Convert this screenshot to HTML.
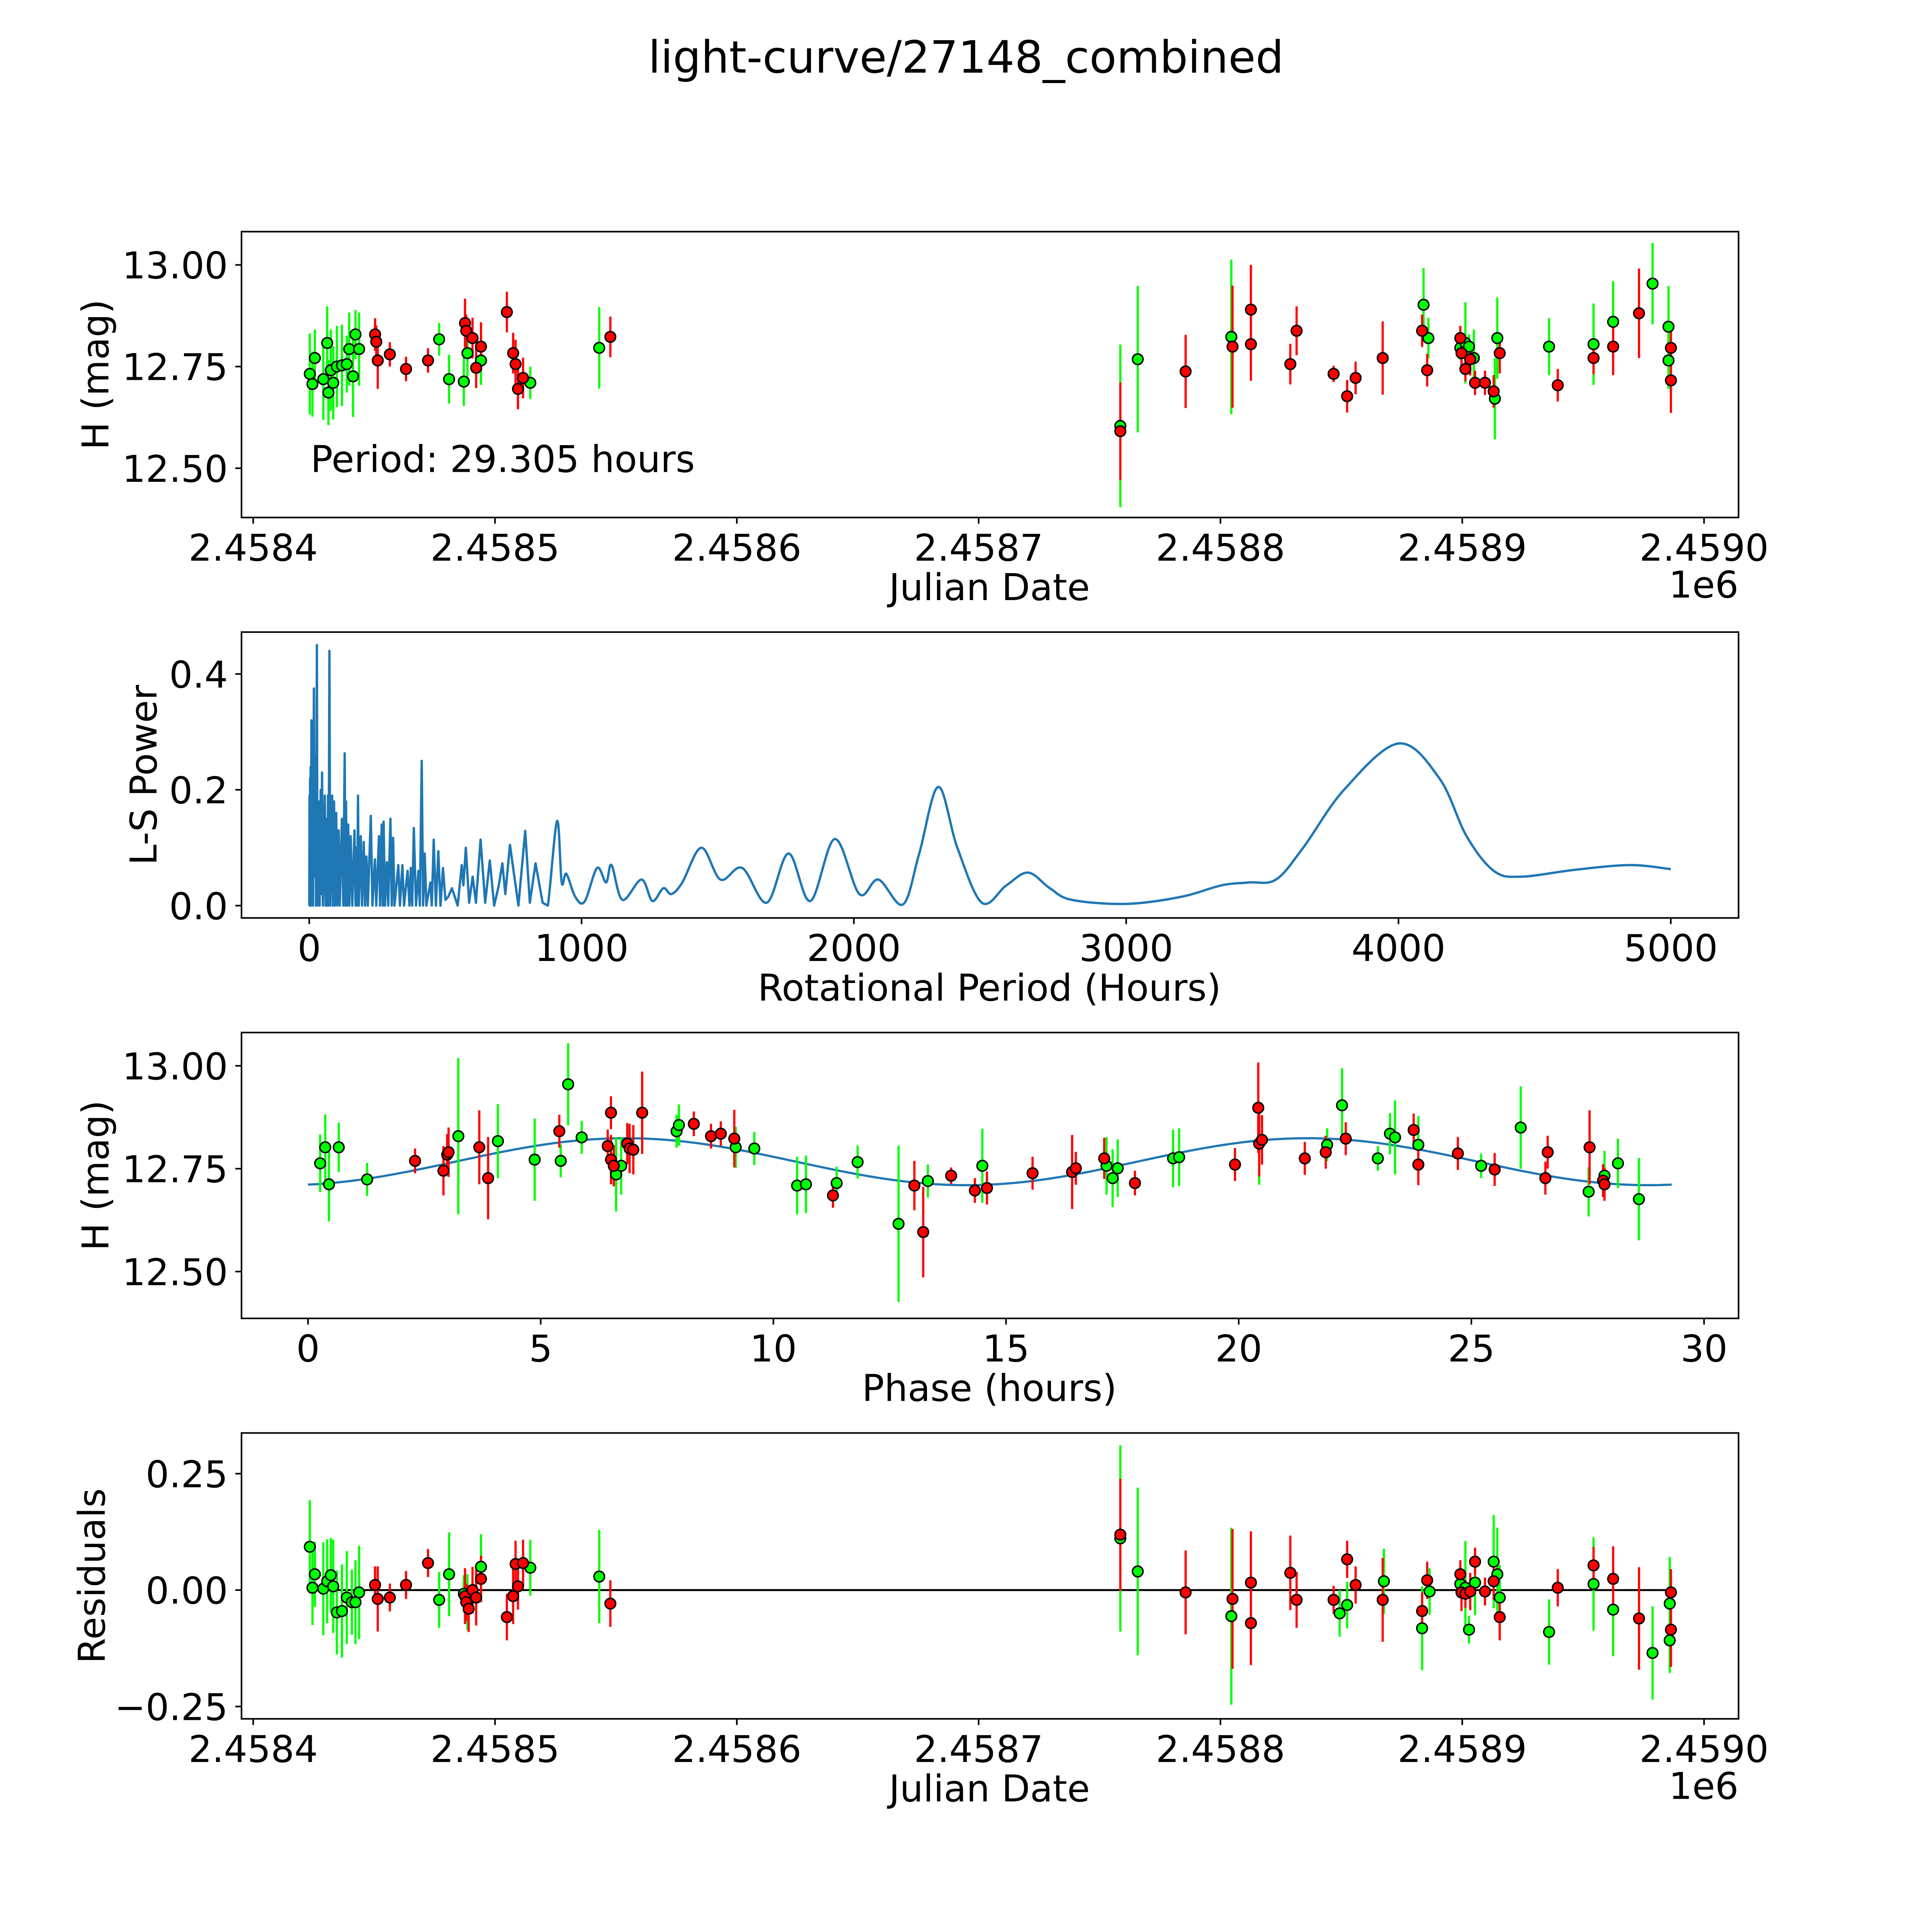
<!DOCTYPE html>
<html><head><meta charset="utf-8">
<style>
html,body{margin:0;padding:0;background:#fff;overflow:hidden;}
svg{display:block;}
text{font-family:"DejaVu Sans","Liberation Sans",sans-serif;fill:#000;}
</style></head>
<body>
<svg id="fig" width="5000" height="5000" viewBox="0 0 1568 1568" xmlns="http://www.w3.org/2000/svg">
<rect x="0" y="0" width="1568" height="1568" fill="#fff"/>
<text x="784" y="59" font-size="36" text-anchor="middle">light-curve/27148_combined</text>
</svg>
<script>
// ---------- DATA ----------
const lcGreenDay = [23.4,24.5,25.5,29.0,30.6,31.1,32.1,33.1,34.6,36.7,38.7,39.7,41.3,42.3,43.8,76.9,81.0,87.1,88.6,94.2,114.6,143.1,358.6,365.8,404.5,484.0,486.0,499.2,501.3,502.8,504.8,513.5,514.5,535.9,554.3,562.4,578.7,585.3,585.3];
const lcGreenMag = [12.732,12.707,12.771,12.719,12.808,12.686,12.741,12.710,12.750,12.753,12.756,12.793,12.726,12.829,12.793,12.817,12.719,12.713,12.783,12.765,12.710,12.796,12.604,12.768,12.823,12.902,12.820,12.796,12.808,12.799,12.771,12.671,12.820,12.799,12.805,12.860,12.954,12.848,12.765];
const lcGreenErr = [0.10,0.08,0.07,0.10,0.09,0.08,0.10,0.09,0.10,0.10,0.07,0.09,0.10,0.06,0.09,0.04,0.06,0.06,0.07,0.06,0.04,0.10,0.20,0.18,0.19,0.09,0.05,0.03,0.10,0.03,0.07,0.10,0.10,0.07,0.10,0.10,0.10,0.10,0.07];
const lcRedDay = [50.4,50.9,51.5,56.5,63.2,72.3,87.6,88.1,90.7,92.2,94.2,104.9,107.5,108.5,109.5,111.6,147.7,358.6,385.6,405.0,412.6,412.6,428.9,431.5,446.8,452.4,455.9,467.1,483.4,485.5,499.2,499.7,501.3,503.3,505.3,509.4,513.0,515.5,539.5,554.3,562.4,573.1,586.3,586.3];
const lcRedMag = [12.829,12.811,12.765,12.780,12.744,12.765,12.857,12.838,12.820,12.747,12.799,12.884,12.783,12.756,12.695,12.722,12.823,12.591,12.738,12.799,12.890,12.805,12.756,12.838,12.732,12.677,12.722,12.771,12.838,12.741,12.820,12.783,12.744,12.768,12.710,12.710,12.689,12.783,12.704,12.771,12.799,12.881,12.796,12.716];
const lcRedErr = [0.04,0.04,0.07,0.03,0.03,0.03,0.06,0.04,0.05,0.05,0.06,0.05,0.05,0.06,0.05,0.05,0.05,0.12,0.09,0.15,0.11,0.09,0.05,0.06,0.02,0.04,0.04,0.09,0.04,0.04,0.03,0.04,0.03,0.04,0.03,0.03,0.04,0.05,0.04,0.04,0.07,0.11,0.05,0.08];

const lsPeriod = [0,1,2,3,4,5,6,8,10,12,14,17,19,21,23,25,28,30,35,38,42,44,47,50,57,60,64,66,69,71,74,77,84,87,91,94,99,103,108,112,120,125,130,133,135,139,143,147,152,158,166,170,173,176,179,182,189,194,200,205,210,215,226,232,241,246,256,260,266,270,273,278,285,290,298,303,308,313,327,333,342,348,361,368,373,378,384,392,401,406,413,418,424,430,445,450,457,465,474,482,491,500,510,524,545,560,566,575,587,600,612,629,646,663,679,696,709,720,737,768,793,810,831,857,876,910,927,944,977,1011,1057,1090,1110,1150,1220,1260,1300,1330,1370,1440,1510,1590,1680,1760,1840,1930,2020,2090,2180,2240,2310,2380,2470,2560,2640,2720,2800,3000,3200,3350,3450,3550,3650,3800,4000,4150,4250,4350,4450,4650,4850,5000];
const lsPower = [0,0.19,0,0.22,0,0.24,0,0.32,0.02,0.23,0,0.375,0.05,0.2,0.26,0,0.45,0,0.18,0,0.2,0.02,0.23,0,0.19,0,0.15,0,0.19,0,0.44,0,0.19,0,0.18,0,0.16,0,0.13,0,0.15,0,0.263,0,0.18,0,0.14,0,0.12,0,0.13,0,0.1,0,0.19,0,0.12,0,0.11,0,0.085,0,0.155,0,0.08,0,0.12,0,0.14,0,0.145,0,0.075,0,0.15,0,0.117,0,0.07,0,0.07,0,0.06,0,0.065,0,0.134,0,0.06,0,0.25,0,0.09,0,0.04,0,0.114,0,0.094,0,0.065,0.01,0.015,0.03,0,0.07,0.035,0.1,0.005,0.05,0.005,0.114,0.005,0.078,0,0.035,0.073,0.02,0.105,0,0.129,0.005,0.073,0.005,0,0.146,0.04,0.055,0.015,0.007,0.065,0.04,0.07,0.01,0.045,0.008,0.03,0.02,0.04,0.1,0.045,0.065,0.005,0.09,0.008,0.115,0.02,0.045,0.002,0.09,0.205,0.1,0.005,0.035,0.057,0.03,0.01,0.003,0.015,0.035,0.04,0.045,0.1,0.2,0.28,0.22,0.12,0.06,0.05,0.062,0.07,0.063];

const phGreenPhase = [0.26,0.37,0.45,0.66,1.27,3.23,4.08,4.87,5.43,5.59,5.88,6.62,6.73,7.92,7.97,9.19,9.59,10.51,10.70,11.36,11.81,12.69,13.32,14.49,17.16,17.29,17.40,18.59,18.72,20.44,21.90,22.22,22.99,23.25,23.36,23.86,25.21,26.06,27.52,27.86,28.15,28.60];
const phGreenMag = [12.763,12.802,12.712,12.802,12.724,12.829,12.817,12.772,12.769,12.955,12.826,12.736,12.757,12.841,12.856,12.802,12.799,12.709,12.712,12.715,12.766,12.616,12.720,12.757,12.757,12.727,12.751,12.775,12.778,12.811,12.808,12.904,12.775,12.835,12.826,12.808,12.757,12.850,12.694,12.733,12.763,12.676];
const phGreenErr = [0.07,0.08,0.09,0.06,0.04,0.19,0.09,0.10,0.04,0.10,0.04,0.09,0.07,0.04,0.05,0.05,0.04,0.07,0.07,0.04,0.04,0.19,0.04,0.09,0.07,0.07,0.07,0.07,0.07,0.1,0.04,0.09,0.03,0.05,0.09,0.07,0.03,0.1,0.06,0.06,0.06,0.10];
const phRedPhase = [2.30,2.91,2.99,3.02,3.68,3.87,5.40,6.44,6.51,6.51,6.57,6.86,6.91,6.99,7.18,8.29,8.66,8.87,9.16,11.28,13.03,13.22,13.82,14.33,14.59,15.57,16.42,16.50,17.11,17.77,19.92,20.42,20.44,20.50,21.42,21.87,22.30,23.76,23.86,24.71,25.50,26.64,26.59,27.54,27.83,27.86];
const phRedMag = [12.769,12.745,12.784,12.790,12.802,12.727,12.841,12.805,12.886,12.772,12.757,12.811,12.799,12.796,12.886,12.859,12.829,12.835,12.823,12.685,12.709,12.596,12.733,12.697,12.703,12.739,12.742,12.751,12.775,12.715,12.760,12.898,12.811,12.820,12.775,12.790,12.823,12.844,12.760,12.787,12.748,12.790,12.727,12.802,12.721,12.712];
const phRedErr = [0.03,0.06,0.05,0.06,0.09,0.1,0.04,0.04,0.04,0.06,0.05,0.05,0.06,0.06,0.1,0.03,0.03,0.03,0.07,0.03,0.06,0.11,0.02,0.03,0.04,0.04,0.09,0.04,0.05,0.03,0.04,0.11,0.08,0.06,0.04,0.04,0.04,0.04,0.05,0.04,0.04,0.04,0.04,0.09,0.04,0.04];
const fitParams = [12.767, 0.057, 0.5, 29.305];

const rsGreenDay = [23.4,24.5,25.5,29.0,30.6,32.1,33.1,34.6,36.7,38.7,40.8,42.3,43.8,76.9,81.0,87.1,88.6,94.2,114.6,143.1,358.6,365.8,404.5,449.3,452.4,467.6,483.4,486.5,499.2,501.3,502.8,505.3,513.0,514.5,515.5,535.9,554.3,562.4,578.7,585.8,585.8];
const rsGreenVal = [0.093,0.005,0.034,0.003,0.019,0.032,0.008,-0.048,-0.045,-0.016,-0.026,-0.026,-0.005,-0.021,0.034,-0.008,-0.026,0.050,0.048,0.029,0.111,0.040,-0.056,-0.050,-0.032,0.019,-0.082,-0.003,0.013,0.005,-0.085,0.016,0.061,0.034,-0.016,-0.090,0.013,-0.042,-0.135,-0.029,-0.108];
const rsGreenErr = [0.10,0.08,0.07,0.10,0.09,0.08,0.10,0.09,0.10,0.10,0.07,0.09,0.10,0.06,0.09,0.04,0.06,0.07,0.06,0.10,0.20,0.18,0.19,0.05,0.05,0.07,0.09,0.05,0.03,0.10,0.03,0.07,0.10,0.10,0.07,0.07,0.10,0.10,0.10,0.10,0.07];
const rsRedDay = [50.4,51.5,56.5,63.2,72.3,87.6,88.1,89.1,90.7,92.2,94.2,104.9,107.5,108.5,109.5,111.6,147.7,358.6,385.6,405.0,412.6,412.6,428.9,431.5,446.8,452.4,455.9,467.1,483.4,485.5,499.2,499.7,501.3,503.3,505.3,509.4,513.0,515.5,539.5,554.3,562.4,573.1,586.3,586.3];
const rsRedVal = [0.011,-0.019,-0.016,0.011,0.058,-0.013,-0.026,-0.040,0,-0.016,0.024,-0.058,-0.013,0.056,0.008,0.058,-0.029,0.119,-0.005,-0.019,0.016,-0.071,0.037,-0.021,-0.021,0.066,0.011,-0.021,-0.045,0.021,0.034,-0.005,-0.008,-0.003,0.061,-0.003,0.019,-0.058,0.005,0.053,0.024,-0.061,-0.005,-0.085];
const rsRedErr = [0.04,0.07,0.03,0.03,0.03,0.06,0.04,0.05,0.05,0.06,0.05,0.05,0.06,0.05,0.05,0.05,0.05,0.12,0.09,0.15,0.11,0.09,0.08,0.06,0.03,0.04,0.04,0.09,0.04,0.04,0.03,0.04,0.03,0.04,0.03,0.03,0.04,0.05,0.04,0.04,0.07,0.11,0.05,0.08];

const jdTickVals = [0,100,200,300,400,500,600];
const jdTickLabels = ["2.4584","2.4585","2.4586","2.4587","2.4588","2.4589","2.4590"];
const magTickVals = [13.0,12.75,12.5];
const magTickLabels = ["13.00","12.75","12.50"];
const lsXTicks = [0,1000,2000,3000,4000,5000];
const lsYTicks = [0,0.2,0.4];
const lsYLabels = ["0.0","0.2","0.4"];
const phXTicks = [0,5,10,15,20,25,30];
const rsYTicks = [0.25,0,-0.25];
const rsYLabels = ["0.25","0.00","\u22120.25"];

// ---------- DRAW ----------
const NS = "http://www.w3.org/2000/svg";
const svg = document.getElementById("fig");
const FS = 30;
function mk(tag, attrs, parent){
  const e = document.createElementNS(NS, tag);
  for (const k in attrs) e.setAttribute(k, attrs[k]);
  (parent||svg).appendChild(e);
  return e;
}
function lin(d0,d1,p0,p1){ return v => p0 + (v-d0)*(p1-p0)/(d1-d0); }

const L = 196, R = 1411;
const xJD = lin(0,600,205.5,1383);
const y1 = lin(12.5,13.0,380,215);
const xLS = lin(0,5000,251,1356);
const y2 = lin(0,0.4,735,547);
const xPH = lin(0,30,250,1383);
const y3 = lin(12.5,13.0,1032,865);
const y4 = lin(-0.25,0.25,1385,1196);

function frame(top, bottom, name){
  const r = mk("rect",{x:L,y:top,width:R-L,height:bottom-top,fill:"none",stroke:"#000","stroke-width":1.3});
  
  
}
function xticks(vals, labels, sx, bottom, name){
  vals.forEach((v,i)=>{
    const x = sx(v);
    const t = mk("line",{x1:x,x2:x,y1:bottom,y2:bottom+5,stroke:"#000","stroke-width":1.3});
    
    
    const tx = mk("text",{x:x,y:bottom+35,"font-size":FS,"text-anchor":"middle"});
    tx.textContent = labels[i];
    
    
  });
}
function yticks(vals, labels, sy, name){
  vals.forEach((v,i)=>{
    const y = sy(v);
    const t = mk("line",{x1:L-5,x2:L,y1:y,y2:y,stroke:"#000","stroke-width":1.3});
    
    
    const tx = mk("text",{x:L-11,y:y+11,"font-size":FS,"text-anchor":"end"});
    tx.textContent = labels[i];
    
    
  });
}
function label(txt, x, y, rot, name){
  const t = mk("text",{x:x,y:y,"font-size":FS,"text-anchor":"middle"});
  if (rot) t.setAttribute("transform","rotate(-90 "+x+" "+y+")");
  t.textContent = txt;
  
  
}
function errpts(xs, ys, es, sx, sy, color, name){
  const g = mk("g",{});
  
  
  xs.forEach((xv,i)=>{
    const e = es[i]!==undefined ? es[i] : 0.07;
    const ln = mk("line",{x1:sx(xv),x2:sx(xv),y1:sy(ys[i]-e),y2:sy(ys[i]+e),stroke:color,"stroke-width":1.8},g);
    
    
  });
  return g;
}
function dots(xs, ys, sx, sy, color, name){
  const g = mk("g",{});
  
  
  xs.forEach((xv,i)=>{
    const c = mk("circle",{cx:sx(xv),cy:sy(ys[i]),r:4.3,fill:color,stroke:"#000","stroke-width":1.2},g);
    
    
  });
}
const GREEN="#00ff00", RED="#ff0000";

frame(188,420,'light-curve-axes');
errpts(lcGreenDay,lcGreenMag,lcGreenErr,xJD,y1,GREEN,'lc-green');
errpts(lcRedDay,lcRedMag,lcRedErr,xJD,y1,RED,'lc-red');
dots(lcGreenDay,lcGreenMag,xJD,y1,GREEN,'lc-green');
dots(lcRedDay,lcRedMag,xJD,y1,RED,'lc-red');
xticks(jdTickVals,jdTickLabels,xJD,420,'lc-x');
yticks(magTickVals,magTickLabels,y1,'lc-y');
label("Julian Date",803,487,false,'lc-x-axis-title');
label("H (mag)",88,304,true,'lc-y-axis-title');
(function(){const t=mk("text",{x:1411,y:485,"font-size":FS,"text-anchor":"end"});t.textContent="1e6";

})();
(function(){const t=mk("text",{x:252,y:383,"font-size":FS});t.textContent="Period: 29.305 hours";

})();

frame(513,745,'periodogram-axes');
(function(){
  const pts = lsPeriod.map((p,i)=>[xLS(p),y2(lsPower[i])]);
  let d = "M"+pts[0][0].toFixed(2)+","+pts[0][1].toFixed(2);
  for (let i=1;i<pts.length;i++){
    if (lsPeriod[i] <= 900){ d += " L"+pts[i][0].toFixed(2)+","+pts[i][1].toFixed(2); }
    else {
      const p0=pts[i-2]||pts[i-1], p1=pts[i-1], p2=pts[i], p3=pts[i+1]||pts[i];
      const c1x=p1[0]+(p2[0]-p0[0])/6, c1y=p1[1]+(p2[1]-p0[1])/6;
      const c2x=p2[0]-(p3[0]-p1[0])/6, c2y=p2[1]-(p3[1]-p1[1])/6;
      d += " C"+c1x.toFixed(2)+","+c1y.toFixed(2)+" "+c2x.toFixed(2)+","+c2y.toFixed(2)+" "+p2[0].toFixed(2)+","+p2[1].toFixed(2);
    }
  }
  const p = mk("path",{d:d,fill:"none",stroke:"#1f77b4","stroke-width":1.9,"stroke-linejoin":"round"});
  
  
})();
xticks(lsXTicks,lsXTicks.map(String),xLS,745,'ls-x');
yticks(lsYTicks,lsYLabels,y2,'ls-y');
label("Rotational Period (Hours)",803,812,false,'ls-x-axis-title');
label("L-S Power",127,629,true,'ls-y-axis-title');

frame(838,1070,'phase-axes');
(function(){
  const [m,a,s,P] = fitParams;
  let d="";
  for (let k=0;k<=300;k++){
    const ph = P*k/300;
    const v = m - a*Math.cos(4*Math.PI*(ph+s)/P);
    d += (k?" L":"M")+xPH(ph).toFixed(2)+","+y3(v).toFixed(2);
  }
  const p = mk("path",{d:d,fill:"none",stroke:"#1f77b4","stroke-width":1.8});
  
  
})();
errpts(phGreenPhase,phGreenMag,phGreenErr,xPH,y3,GREEN,'phase-green');
errpts(phRedPhase,phRedMag,phRedErr,xPH,y3,RED,'phase-red');
dots(phGreenPhase,phGreenMag,xPH,y3,GREEN,'phase-green');
dots(phRedPhase,phRedMag,xPH,y3,RED,'phase-red');
xticks(phXTicks,phXTicks.map(String),xPH,1070,'phase-x');
yticks(magTickVals,magTickLabels,y3,'phase-y');
label("Phase (hours)",803,1137,false,'phase-x-axis-title');
label("H (mag)",88,954,true,'phase-y-axis-title');

frame(1163,1395,'residuals-axes');
(function(){
  const l = mk("line",{x1:xJD(23),x2:xJD(587),y1:y4(0),y2:y4(0),stroke:"#000","stroke-width":1.6});
  
  
})();
errpts(rsGreenDay,rsGreenVal,rsGreenErr,xJD,y4,GREEN,'resid-green');
errpts(rsRedDay,rsRedVal,rsRedErr,xJD,y4,RED,'resid-red');
dots(rsGreenDay,rsGreenVal,xJD,y4,GREEN,'resid-green');
dots(rsRedDay,rsRedVal,xJD,y4,RED,'resid-red');
xticks(jdTickVals,jdTickLabels,xJD,1395,'resid-x');
yticks(rsYTicks,rsYLabels,y4,'resid-y');
label("Julian Date",803,1462,false,'resid-x-axis-title');
label("Residuals",85,1279,true,'resid-y-axis-title');
(function(){const t=mk("text",{x:1411,y:1460,"font-size":FS,"text-anchor":"end"});t.textContent="1e6";

})();
</script>
</body></html>
